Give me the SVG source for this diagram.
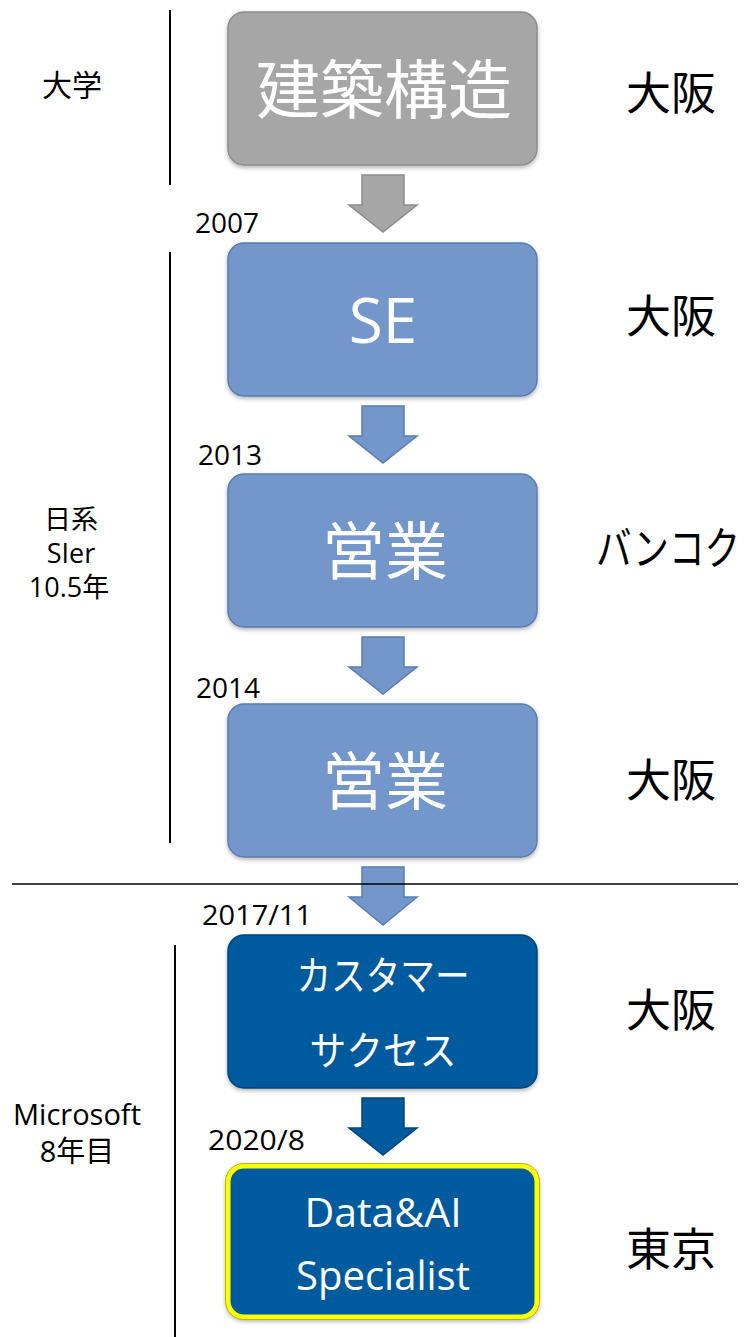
<svg xmlns="http://www.w3.org/2000/svg" width="745" height="1337" viewBox="0 0 745 1337">
<defs>
<filter id="sh" x="-10%" y="-10%" width="120%" height="125%">
<feDropShadow dx="0" dy="2" stdDeviation="2" flood-color="#000" flood-opacity="0.3"/>
</filter>
</defs>
<style>
.lbl{font-family:"Open Sans","Noto Sans CJK JP",sans-serif;fill:#000;}
.jp{font-family:"Noto Sans CJK JP",sans-serif;}
.bt{font-family:"Open Sans","Noto Sans CJK JP",sans-serif;fill:#fff;text-anchor:middle;}
.gray{fill:#A6A6A6;stroke:#8C8C8C;stroke-width:1.5;}
.lb{fill:#7397CB;stroke:#5A7DB0;stroke-width:1.5;}
.db{fill:#005A9E;stroke:#00467D;stroke-width:1.5;}
.line{stroke:#000;stroke-width:2;fill:none;}
</style>
<rect width="745" height="1337" fill="#fff"/>

<g id="dividers">
<line class="line" x1="170" y1="10" x2="170" y2="185"/>
<line class="line" x1="170" y1="252" x2="170" y2="843"/>
<line class="line" x1="175" y1="945" x2="175" y2="1337"/>
</g>

<g id="connectors">
<path class="gray" d="M362,175 H404 V205 H417 L383,232 L349,205 H362 Z"/>
<path class="lb" d="M362,406 H404 V436 H417 L383,463 L349,436 H362 Z"/>
<path class="lb" d="M362,637 H404 V667 H417 L383,694 L349,667 H362 Z"/>
<path class="lb" d="M362,867 H404 V897 H417 L383,925 L349,897 H362 Z"/>
<path class="db" d="M362,1098 H404 V1128 H417 L383,1155 L349,1128 H362 Z"/>
</g>

<g id="separator">
<line x1="12" y1="884" x2="738" y2="884" stroke="#000" stroke-width="1.5"/>
</g>

<g id="node-university">
<rect class="gray" x="228" y="12" width="309" height="153" rx="16" filter="url(#sh)"/>
<text class="bt jp" x="384" y="113" font-size="64">建築構造</text>
</g>

<g id="node-se">
<rect class="lb" x="228" y="243" width="309" height="153" rx="16" filter="url(#sh)"/>
<text class="bt" x="383" y="343" font-size="62">SE</text>
</g>

<g id="node-sales-bkk">
<rect class="lb" x="228" y="474" width="309" height="153" rx="16" filter="url(#sh)"/>
<text class="bt jp" x="385" y="574" font-size="63">営業</text>
</g>

<g id="node-sales-osaka">
<rect class="lb" x="228" y="704" width="309" height="153" rx="16" filter="url(#sh)"/>
<text class="bt jp" x="385" y="804" font-size="63">営業</text>
</g>

<g id="node-cs">
<rect class="db" x="228" y="935" width="309" height="153" rx="16" filter="url(#sh)"/>
<text class="bt jp" x="383" y="990" font-size="40" textLength="173" lengthAdjust="spacingAndGlyphs">カスタマー</text>
<text class="bt jp" x="383" y="1065" font-size="40" textLength="147" lengthAdjust="spacingAndGlyphs">サクセス</text>
</g>

<g id="node-dai">
<rect x="228" y="1166" width="309" height="151" rx="16" fill="#005A9E" stroke="#FFFF00" stroke-width="5" filter="url(#sh)"/>
<rect x="225.5" y="1163.5" width="314" height="156" rx="18" fill="none" stroke="#B5B500" stroke-width="1"/>
<text class="bt" x="383" y="1227" font-size="41">Data&amp;AI</text>
<text class="bt" x="383" y="1290" font-size="40">Specialist</text>
</g>

<g id="years" class="lbl" font-size="28">
<text x="195" y="233">2007</text>
<text x="198" y="465">2013</text>
<text x="196" y="698">2014</text>
<text x="202" y="925" textLength="110" lengthAdjust="spacingAndGlyphs">2017/11</text>
<text x="208" y="1150" textLength="97" lengthAdjust="spacingAndGlyphs">2020/8</text>
</g>

<g id="left-labels" class="lbl" text-anchor="middle">
<text x="72" y="96" font-size="30">大学</text>
<text x="71" y="529" font-size="27">日系</text>
<text x="71" y="563" font-size="27">SIer</text>
<text x="69" y="597" font-size="27">10.5年</text>
<text x="77" y="1125" font-size="29">Microsoft</text>
<text x="77" y="1162" font-size="29">8年目</text>
</g>

<g id="places" class="lbl jp" font-size="45" text-anchor="middle">
<text x="671" y="110">大阪</text>
<text x="671" y="333">大阪</text>
<text transform="translate(668,565) scale(0.79,1)">バンコク</text>
<text x="671" y="797">大阪</text>
<text x="671" y="1027">大阪</text>
<text x="671" y="1266">東京</text>
</g>
</svg>
